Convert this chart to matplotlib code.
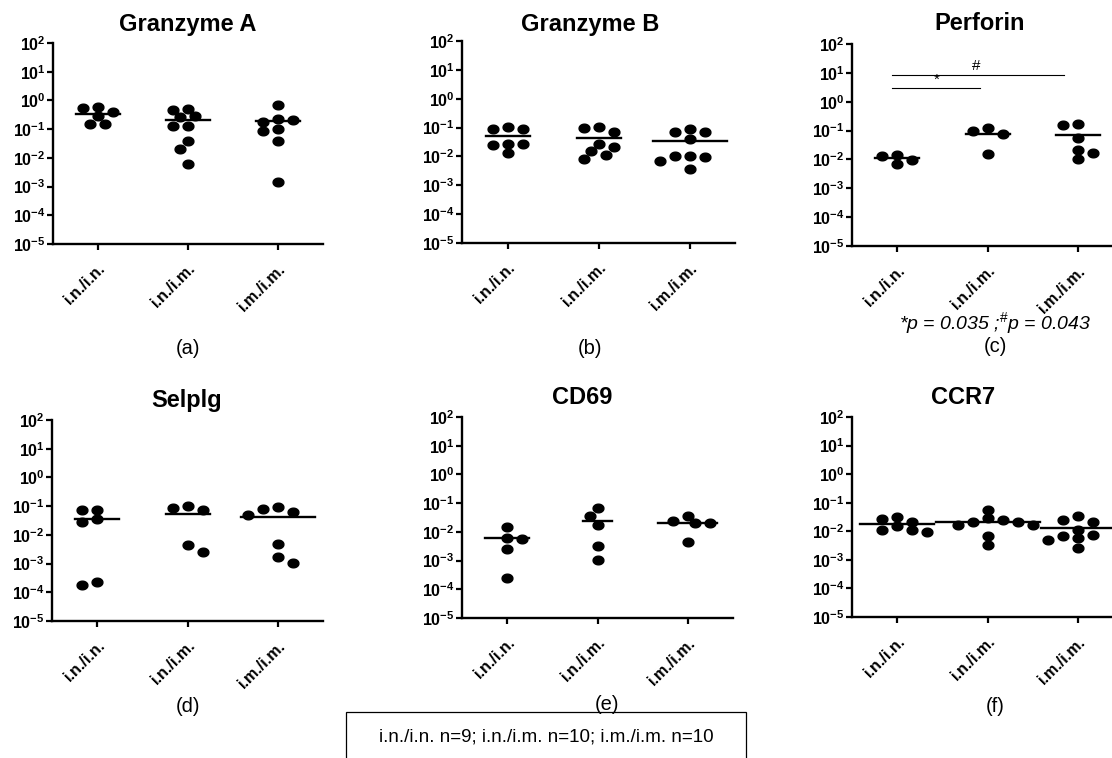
import numpy as np
import matplotlib.pyplot as plt
from matplotlib.patches import Rectangle
from matplotlib.ticker import LogLocator, FixedLocator, NullFormatter

plt.rcParams['font.family'] = ['Liberation Sans', 'DejaVu Sans']
plt.rcParams['mathtext.fontset'] = 'custom'
plt.rcParams['mathtext.rm'] = 'Liberation Sans'
plt.rcParams['mathtext.it'] = 'Liberation Sans:italic'
plt.rcParams['mathtext.bf'] = 'Liberation Sans:bold'

groups = ['i.n./i.n.', 'i.n./i.m.', 'i.m./i.m.']
decades = [-5, -4, -3, -2, -1, 0, 1, 2]

# relative expression per animal, one list per group
granzyme_a = [
    [0.58, 0.54, 0.39, 0.28, 0.15, 0.15],
    [0.51, 0.47, 0.28, 0.255, 0.124, 0.124, 0.039, 0.021, 0.006],
    [0.71, 0.229, 0.211, 0.171, 0.10, 0.083, 0.039, 0.0014],
]
granzyme_b = [
    [0.102, 0.089, 0.089, 0.026, 0.026, 0.024, 0.013],
    [0.102, 0.094, 0.072, 0.027, 0.022, 0.0155, 0.0113, 0.0082],
    [0.089, 0.072, 0.068, 0.039, 0.0107, 0.0107, 0.0099, 0.0067, 0.0037],
]
perforin = [
    [0.0148, 0.013, 0.0092, 0.0071],
    [0.124, 0.10, 0.077, 0.0156],
    [0.17, 0.16, 0.056, 0.0204, 0.0169, 0.0105],
]
selplg = [
    [0.075, 0.071, 0.0365, 0.0272, 0.00023, 0.00018],
    [0.098, 0.086, 0.075, 0.0043, 0.0025],
    [0.093, 0.081, 0.062, 0.050, 0.0049, 0.0017, 0.00105],
]
cd69 = [
    [0.0152, 0.006, 0.0055, 0.0025, 0.00024],
    [0.066, 0.036, 0.0173, 0.0031, 0.00105],
    [0.0365, 0.0238, 0.0198, 0.0198, 0.0046],
]
ccr7 = [
    [0.0328, 0.0272, 0.0219, 0.0155, 0.0112, 0.0107, 0.0093],
    [0.056, 0.0288, 0.024, 0.0209, 0.0209, 0.017, 0.017, 0.0066, 0.0034],
    [0.033, 0.024, 0.0204, 0.0112, 0.0072, 0.0066, 0.0058, 0.0048, 0.0026],
]

titles = ['Granzyme A', 'Granzyme B', 'Perforin', 'Selplg', 'CD69', 'CCR7']
letters = ['(a)', '(b)', '(c)', '(d)', '(e)', '(f)']
panel_data = [granzyme_a, granzyme_b, perforin, selplg, cd69, ccr7]

W, H = 1112, 758
fig = plt.figure(figsize=(W / 100, H / 100), dpi=100)

# axes boxes in pixels: left, top, right, bottom
boxes = [
    (53, 43, 323, 244),
    (462, 41, 735, 243),
    (852, 44, 1123, 246),
    (52, 420, 323, 621),
    (462, 417, 733, 618),
    (852, 417, 1123, 617),
]
title_pos = [(188, 25), (590, 24), (980, 24), (187, 400), (582, 398), (963, 398)]
letter_pos = [(188, 348), (590, 348), (995, 346), (188, 706), (607, 704), (995, 706)]

# elliptical dot, a little wider than tall
t = np.linspace(0, 2 * np.pi, 60)
dot = np.column_stack([np.cos(t), 0.8 * np.sin(t)])


def swarm_offsets(ax, x0, values, step=15.0, min_dx=14.5, min_dy=8.0):
    trans = ax.transData
    ys = trans.transform([(x0, v) for v in values])[:, 1]
    unit = trans.transform((1, 1))[0] - trans.transform((0, 1))[0]
    cands = [0.0]
    for k in range(1, 14):
        cands += [-k * step / 2, k * step / 2]
    placed = []
    offs = np.zeros(len(values))
    for n, i in enumerate(np.argsort(-np.asarray(values))):
        sign = 1 if n % 2 else -1
        for c in sorted(cands, key=lambda c: (abs(c), sign * c)):
            if all(((c - px) / min_dx) ** 2 + ((ys[i] - py) / min_dy) ** 2 >= 1
                   for px, py in placed):
                break
        placed.append((c, ys[i]))
        offs[i] = c / unit
    return offs, unit


for k, data in enumerate(panel_data):
    l, tp, r, b = boxes[k]
    ax = fig.add_axes([l / W, 1 - b / H, (r - l) / W, (b - tp) / H])
    ax.set_yscale('log')
    ax.set_xlim(-0.5, 2.5)
    ax.set_ylim(1e-5, 1e2)
    for s in ['top', 'right']:
        ax.spines[s].set_visible(False)
    for s in ['left', 'bottom']:
        ax.spines[s].set_linewidth(1.7)
    ax.set_xticks(range(3))
    ax.set_xticklabels(groups, rotation=45, ha='right', rotation_mode='anchor',
                       fontsize=11.5, fontweight='bold')
    ax.yaxis.set_major_locator(FixedLocator([10.0 ** d for d in decades]))
    ax.set_yticklabels([r'$\mathbf{10^{%d}}$' % d for d in decades], fontsize=11.5)
    ax.yaxis.set_minor_locator(LogLocator(base=10, subs=np.arange(2, 10)))
    ax.yaxis.set_minor_formatter(NullFormatter())
    ax.tick_params(axis='both', which='major', length=4, width=1.6)
    ax.tick_params(axis='x', which='major', pad=8)
    ax.tick_params(axis='y', which='major', pad=1.5)
    ax.tick_params(axis='y', which='minor', length=2.5, width=1.0)

    for g, vals in enumerate(data):
        offs, unit = swarm_offsets(ax, g, vals)
        ax.plot(g + offs, vals, linestyle='none', marker=dot, markersize=7.8,
                color='black', clip_on=False)
        half = np.max(np.abs(offs)) + 7 / unit
        ax.plot([g - half, g + half], [np.mean(vals)] * 2, color='black', lw=1.7)

    if k == 2:
        ax.plot([-0.06, 0.92], [3.0, 3.0], color='black', lw=0.8)
        ax.plot([-0.06, 1.85], [8.2, 8.2], color='black', lw=0.8)
        ax.text(0.44, 3.3, '*', ha='center', va='bottom', fontsize=11)
        ax.text(0.88, 9.5, '#', ha='center', va='bottom', fontsize=11)

    fig.text(title_pos[k][0] / W, 1 - title_pos[k][1] / H, titles[k],
             ha='center', va='center', fontsize=17, fontweight='bold')
    fig.text(letter_pos[k][0] / W, 1 - letter_pos[k][1] / H, letters[k],
             ha='center', va='center', fontsize=14.5)

fig.text(995 / W, 1 - 323 / H, r'*p = 0.035 ;$^{\#}$p = 0.043',
         ha='center', va='center', fontsize=14, style='italic')

fig.patches.append(Rectangle((346 / W, 1 - 765 / H), (746 - 346) / W, (765 - 712) / H,
                             transform=fig.transFigure, fill=False,
                             edgecolor='black', lw=0.9))
fig.text(546 / W, 1 - 737 / H, 'i.n./i.n. n=9; i.n./i.m. n=10; i.m./i.m. n=10',
         ha='center', va='center', fontsize=13.5)

fig.savefig('out.png', dpi=100)
